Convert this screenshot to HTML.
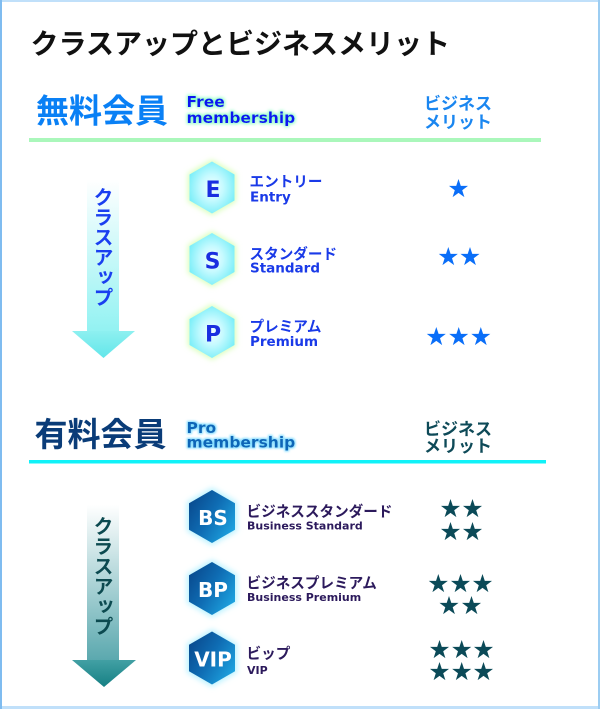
<!DOCTYPE html>
<html><head><meta charset="utf-8">
<style>
html,body{margin:0;padding:0;background:#fff;}
body{width:600px;height:709px;position:relative;overflow:hidden;}
.jp{font-family:"Liberation Sans","Noto Sans CJK JP",sans-serif;font-weight:bold;}
.en{font-family:"DejaVu Sans","Liberation Sans",sans-serif;font-weight:bold;}
.vt{position:absolute;writing-mode:vertical-rl;text-orientation:upright;font-family:"Noto Sans CJK JP",sans-serif;font-weight:bold;font-size:20px;line-height:20px;width:20px;white-space:nowrap;}
</style></head><body>
<svg width="600" height="709" viewBox="0 0 600 709" style="position:absolute;left:0;top:0">
<defs>
  <radialGradient id="hf" cx="50%" cy="50%" r="55%">
    <stop offset="0" stop-color="#f4ffff"/>
    <stop offset="0.45" stop-color="#c6faff"/>
    <stop offset="1" stop-color="#78eef8"/>
  </radialGradient>
  <linearGradient id="hp" x1="0" y1="0.1" x2="1" y2="0.8">
    <stop offset="0" stop-color="#08468a"/>
    <stop offset="0.5" stop-color="#0f6db4"/>
    <stop offset="1" stop-color="#1ea6e2"/>
  </linearGradient>
  <linearGradient id="a1" x1="0" y1="0" x2="0" y2="1">
    <stop offset="0" stop-color="#ffffff"/>
    <stop offset="1" stop-color="#92f2f2"/>
  </linearGradient>
  <linearGradient id="a1h" x1="0" y1="0" x2="0" y2="1">
    <stop offset="0" stop-color="#8ef0f0"/>
    <stop offset="1" stop-color="#62e6ea"/>
  </linearGradient>
  <linearGradient id="a2" x1="0" y1="0" x2="0" y2="1">
    <stop offset="0" stop-color="#ffffff"/>
    <stop offset="1" stop-color="#5aa8ae"/>
  </linearGradient>
  <linearGradient id="a2h" x1="0" y1="0" x2="0" y2="1">
    <stop offset="0" stop-color="#42a0a4"/>
    <stop offset="1" stop-color="#168084"/>
  </linearGradient>
  <filter id="bl" x="-40%" y="-40%" width="180%" height="180%">
    <feGaussianBlur stdDeviation="3"/>
  </filter>
  <filter id="tg1" x="-10%" y="-40%" width="120%" height="180%">
    <feMorphology in="SourceAlpha" operator="dilate" radius="1.2" result="d"/>
    <feGaussianBlur in="d" stdDeviation="1.6" result="b"/>
    <feFlood flood-color="#8effc4"/>
    <feComposite in2="b" operator="in" result="g"/>
    <feMerge><feMergeNode in="g"/><feMergeNode in="SourceGraphic"/></feMerge>
  </filter>
  <filter id="tg2" x="-10%" y="-40%" width="120%" height="180%">
    <feMorphology in="SourceAlpha" operator="dilate" radius="0.8" result="d"/>
    <feGaussianBlur in="d" stdDeviation="1" result="b"/>
    <feFlood flood-color="#7fdcff"/>
    <feComposite in2="b" operator="in" result="g"/>
    <feMerge><feMergeNode in="g"/><feMergeNode in="SourceGraphic"/></feMerge>
  </filter>
</defs>

<!-- borders -->
<rect x="0" y="0" width="600" height="2" fill="#c0e0fa"/>
<rect x="0" y="706" width="600" height="3" fill="#c0e0fa"/>
<rect x="0" y="0" width="2" height="709" fill="#7fbcf0"/>
<rect x="598" y="0" width="2" height="709" fill="#9ccdf2"/>

<!-- title -->
<text x="30.5" y="53.5" class="jp" font-size="28" fill="#111">クラスアップとビジネスメリット</text>

<!-- free header -->
<text x="36" y="122.5" class="jp" font-size="33" fill="#0a80f5">無料会員</text>
<g filter="url(#tg1)">
<text x="186.5" y="107" class="en" font-size="15.5" fill="#0a14f0">Free</text>
<text x="186.5" y="123" class="en" font-size="15.5" fill="#0a14f0">membership</text>
</g>
<text x="424" y="109.5" class="jp" font-size="17" fill="#1a86f0">ビジネス</text>
<text x="424" y="128" class="jp" font-size="17" fill="#1a86f0">メリット</text>
<rect x="29" y="138" width="512" height="4" fill="#aaf7bb"/>

<!-- arrow 1 -->
<rect x="87" y="180" width="32" height="152" fill="url(#a1)"/>
<polygon points="72,331 135,331 103.5,358" fill="url(#a1h)"/>

<!-- free hexes -->
<g fill="#d8ffb8" stroke="#d8ffb8" stroke-width="3" filter="url(#bl)">
  <polygon points="212,161.5 234.5,174.5 234.5,200.5 212,213.5 189.5,200.5 189.5,174.5"/>
  <polygon points="212,233 234.5,246 234.5,272 212,285 189.5,272 189.5,246"/>
  <polygon points="212,306 234.5,319 234.5,345 212,358 189.5,345 189.5,319"/>
</g>
<g fill="url(#hf)">
  <polygon points="212,161.5 234.5,174.5 234.5,200.5 212,213.5 189.5,200.5 189.5,174.5"/>
  <polygon points="212,233 234.5,246 234.5,272 212,285 189.5,272 189.5,246"/>
  <polygon points="212,306 234.5,319 234.5,345 212,358 189.5,345 189.5,319"/>
</g>
<g class="en" font-size="22" fill="#1a2ee0" text-anchor="middle">
  <text x="213" y="197">E</text>
  <text x="212.5" y="268.5">S</text>
  <text x="213" y="341.5">P</text>
</g>
<g class="jp" font-size="14.6" fill="#1a3ae8">
  <text x="249.5" y="186.5">エントリー</text>
  <text x="249.5" y="259">スタンダード</text>
  <text x="249.5" y="331.5">プレミアム</text>
</g>
<g class="en" font-size="13.5" fill="#1a3ae8">
  <text x="250" y="201.5">Entry</text>
  <text x="250" y="272.5">Standard</text>
  <text x="250" y="346">Premium</text>
</g>

<!-- free stars -->
<g fill="#0a6ef8">
  <polygon transform="translate(458.5,189)" points="0,-10 2.29,-3.15 9.51,-3.09 3.71,1.2 5.88,8.09 0,3.9 -5.88,8.09 -3.71,1.2 -9.51,-3.09 -2.29,-3.15"/>
  <polygon transform="translate(448.3,257)" points="0,-10 2.29,-3.15 9.51,-3.09 3.71,1.2 5.88,8.09 0,3.9 -5.88,8.09 -3.71,1.2 -9.51,-3.09 -2.29,-3.15"/>
  <polygon transform="translate(470,257)" points="0,-10 2.29,-3.15 9.51,-3.09 3.71,1.2 5.88,8.09 0,3.9 -5.88,8.09 -3.71,1.2 -9.51,-3.09 -2.29,-3.15"/>
  <polygon transform="translate(436.3,337)" points="0,-10 2.29,-3.15 9.51,-3.09 3.71,1.2 5.88,8.09 0,3.9 -5.88,8.09 -3.71,1.2 -9.51,-3.09 -2.29,-3.15"/>
  <polygon transform="translate(458.7,337)" points="0,-10 2.29,-3.15 9.51,-3.09 3.71,1.2 5.88,8.09 0,3.9 -5.88,8.09 -3.71,1.2 -9.51,-3.09 -2.29,-3.15"/>
  <polygon transform="translate(480.8,337)" points="0,-10 2.29,-3.15 9.51,-3.09 3.71,1.2 5.88,8.09 0,3.9 -5.88,8.09 -3.71,1.2 -9.51,-3.09 -2.29,-3.15"/>
</g>

<!-- pro header -->
<text x="34.5" y="446" class="jp" font-size="33" fill="#0a3c78">有料会員</text>
<g filter="url(#tg2)">
<text x="186.5" y="433" class="en" font-size="15.5" fill="#0b66b8">Pro</text>
<text x="186.5" y="447.5" class="en" font-size="15.5" fill="#0b66b8">membership</text>
</g>
<text x="424" y="435" class="jp" font-size="17" fill="#0e4a58">ビジネス</text>
<text x="424" y="452" class="jp" font-size="17" fill="#0e4a58">メリット</text>
<rect x="29" y="460" width="517" height="3.5" fill="#10f2f8"/>

<!-- arrow 2 -->
<rect x="87" y="505" width="32" height="156" fill="url(#a2)"/>
<polygon points="72,660 136,660 104,687" fill="url(#a2h)"/>

<!-- pro hexes -->
<g fill="#b8f2ff" stroke="#b8f2ff" stroke-width="4" filter="url(#bl)">
  <polygon points="212,490 235,503.25 235,529.75 212,543 189,529.75 189,503.25"/>
  <polygon points="212,562 235,575.25 235,601.75 212,615 189,601.75 189,575.25"/>
  <polygon points="212,631.5 235,644.75 235,671.25 212,684.5 189,671.25 189,644.75"/>
</g>
<g fill="url(#hp)">
  <polygon points="212,490 235,503.25 235,529.75 212,543 189,529.75 189,503.25"/>
  <polygon points="212,562 235,575.25 235,601.75 212,615 189,601.75 189,575.25"/>
  <polygon points="212,631.5 235,644.75 235,671.25 212,684.5 189,671.25 189,644.75"/>
</g>
<g class="en" font-size="20" fill="#ffffff" text-anchor="middle">
  <text x="213" y="525">BS</text>
  <text x="213" y="597">BP</text>
  <text x="213" y="666.5">VIP</text>
</g>
<g class="jp" font-size="14.6" fill="#2c1a5c">
  <text x="246.5" y="516.5">ビジネススタンダード</text>
  <text x="246.5" y="588">ビジネスプレミアム</text>
  <text x="246.5" y="658.5">ビップ</text>
</g>
<g class="en" font-size="11" fill="#2c1a5c">
  <text x="247" y="529.5">Business Standard</text>
  <text x="247" y="601">Business Premium</text>
  <text x="247" y="674">VIP</text>
</g>

<!-- pro stars -->
<g fill="#0b4a58">
  <polygon transform="translate(450.5,509)" points="0,-10 2.29,-3.15 9.51,-3.09 3.71,1.2 5.88,8.09 0,3.9 -5.88,8.09 -3.71,1.2 -9.51,-3.09 -2.29,-3.15"/>
  <polygon transform="translate(472.5,509)" points="0,-10 2.29,-3.15 9.51,-3.09 3.71,1.2 5.88,8.09 0,3.9 -5.88,8.09 -3.71,1.2 -9.51,-3.09 -2.29,-3.15"/>
  <polygon transform="translate(450.5,532)" points="0,-10 2.29,-3.15 9.51,-3.09 3.71,1.2 5.88,8.09 0,3.9 -5.88,8.09 -3.71,1.2 -9.51,-3.09 -2.29,-3.15"/>
  <polygon transform="translate(472.5,532)" points="0,-10 2.29,-3.15 9.51,-3.09 3.71,1.2 5.88,8.09 0,3.9 -5.88,8.09 -3.71,1.2 -9.51,-3.09 -2.29,-3.15"/>

  <polygon transform="translate(438.3,584)" points="0,-10 2.29,-3.15 9.51,-3.09 3.71,1.2 5.88,8.09 0,3.9 -5.88,8.09 -3.71,1.2 -9.51,-3.09 -2.29,-3.15"/>
  <polygon transform="translate(460.5,584)" points="0,-10 2.29,-3.15 9.51,-3.09 3.71,1.2 5.88,8.09 0,3.9 -5.88,8.09 -3.71,1.2 -9.51,-3.09 -2.29,-3.15"/>
  <polygon transform="translate(482.5,584)" points="0,-10 2.29,-3.15 9.51,-3.09 3.71,1.2 5.88,8.09 0,3.9 -5.88,8.09 -3.71,1.2 -9.51,-3.09 -2.29,-3.15"/>
  <polygon transform="translate(449,606)" points="0,-10 2.29,-3.15 9.51,-3.09 3.71,1.2 5.88,8.09 0,3.9 -5.88,8.09 -3.71,1.2 -9.51,-3.09 -2.29,-3.15"/>
  <polygon transform="translate(471.5,606)" points="0,-10 2.29,-3.15 9.51,-3.09 3.71,1.2 5.88,8.09 0,3.9 -5.88,8.09 -3.71,1.2 -9.51,-3.09 -2.29,-3.15"/>

  <polygon transform="translate(439.5,650)" points="0,-10 2.29,-3.15 9.51,-3.09 3.71,1.2 5.88,8.09 0,3.9 -5.88,8.09 -3.71,1.2 -9.51,-3.09 -2.29,-3.15"/>
  <polygon transform="translate(461.7,650)" points="0,-10 2.29,-3.15 9.51,-3.09 3.71,1.2 5.88,8.09 0,3.9 -5.88,8.09 -3.71,1.2 -9.51,-3.09 -2.29,-3.15"/>
  <polygon transform="translate(483.5,650)" points="0,-10 2.29,-3.15 9.51,-3.09 3.71,1.2 5.88,8.09 0,3.9 -5.88,8.09 -3.71,1.2 -9.51,-3.09 -2.29,-3.15"/>
  <polygon transform="translate(439.5,672)" points="0,-10 2.29,-3.15 9.51,-3.09 3.71,1.2 5.88,8.09 0,3.9 -5.88,8.09 -3.71,1.2 -9.51,-3.09 -2.29,-3.15"/>
  <polygon transform="translate(461.7,672)" points="0,-10 2.29,-3.15 9.51,-3.09 3.71,1.2 5.88,8.09 0,3.9 -5.88,8.09 -3.71,1.2 -9.51,-3.09 -2.29,-3.15"/>
  <polygon transform="translate(483.5,672)" points="0,-10 2.29,-3.15 9.51,-3.09 3.71,1.2 5.88,8.09 0,3.9 -5.88,8.09 -3.71,1.2 -9.51,-3.09 -2.29,-3.15"/>
</g>
</svg>
<div class="vt" style="left:93px;top:187px;color:#1a3ff0">クラスアップ</div>
<div class="vt" style="left:93px;top:516px;color:#0c4a50">クラスアップ</div>
</body></html>
